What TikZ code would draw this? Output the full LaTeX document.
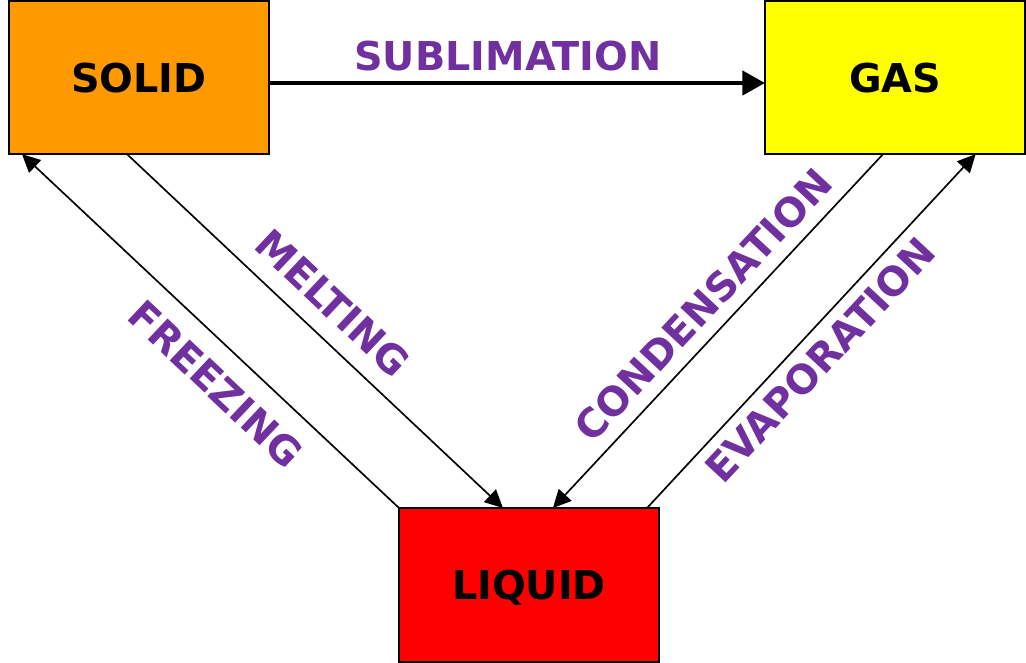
\documentclass[tikz,border=0pt]{standalone}
\usepackage{fontspec}
\setmainfont{DejaVu Sans}
\usetikzlibrary{arrows.meta,calc}
\definecolor{stateorange}{HTML}{FF9900}
\definecolor{stateyellow}{HTML}{FFFF00}
\definecolor{statered}{HTML}{FF0000}
\definecolor{labelpurple}{HTML}{7030A0}
\tikzset{
  statebox/.style={draw=black, line width=1.2pt, minimum width=195pt, minimum height=115pt,
    inner sep=0pt, outer sep=0pt, font=\fontsize{29.8}{34}\selectfont\bfseries, text depth=0pt},
  proclabel/.style={text=labelpurple, font=\fontsize{29.8}{34}\selectfont\bfseries, inner sep=0pt, text depth=0pt},
  thinarrow/.style={draw=black, line width=1.25pt, -{Triangle[length=13.5pt,width=13pt]}},
  thickarrow/.style={draw=black, line width=3.5pt, -{Triangle[length=17pt,width=18pt]}}
}
\begin{document}
\begin{tikzpicture}[x=0.75pt,y=-0.75pt]
\useasboundingbox (0,0) rectangle (1026,663);
\node[statebox, fill=stateorange] (solid) at (139,77.5) {SOLID};
\node[statebox, fill=stateyellow] (gas) at (895,77.5) {GAS};
\node[statebox, fill=statered, minimum height=115.5pt] (liquid) at (529,585) {LIQUID};

\draw[thickarrow] ($(solid.north east)!0.536!(solid.south east)$) -- ($(gas.north west)!0.536!(gas.south west)$);
\draw[thinarrow] ($(solid.south west)!0.454!(solid.south east)$) -- ($(liquid.north west)!0.40!(liquid.north east)$);
\draw[thinarrow] (liquid.north west) -- ($(solid.south west)!0.05!(solid.south east)$);
\draw[thinarrow] ($(gas.south west)!0.454!(gas.south east)$) -- ($(liquid.north west)!0.592!(liquid.north east)$);
\draw[thinarrow] ($(liquid.north west)!0.954!(liquid.north east)$) -- ($(gas.south west)!0.81!(gas.south east)$);

\node[proclabel] (sublimation) at (508,55.5) {SUBLIMATION};
\node[proclabel, rotate=-43.3] (melting) at (333,303) {MELTING};
\node[proclabel, rotate=-43.3] (freezing) at (216,384) {FREEZING};
\node[proclabel, rotate=47] (condensation) at (703,305) {CONDENSATION};
\node[proclabel, rotate=47] (evaporation) at (820,360) {EVAPORATION};
\end{tikzpicture}
\end{document}
